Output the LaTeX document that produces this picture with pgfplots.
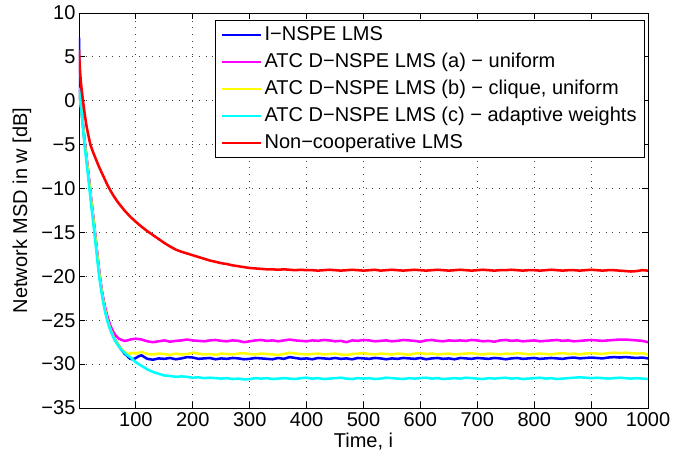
\documentclass[border=0pt]{standalone}
\usepackage{fontspec}
\setmainfont{Liberation Sans}
\usepackage{pgfplots}
\pgfplotsset{compat=1.18}

\definecolor{lblue}{rgb}{0,0,1}
\definecolor{lmagenta}{rgb}{1,0,1}
\definecolor{lyellow}{rgb}{1,1,0}
\definecolor{lcyan}{rgb}{0,1,1}
\definecolor{lred}{rgb}{1,0,0}

\newcommand{\chartfont}{\fontsize{15}{17.5}\selectfont}

\begin{document}
\chartfont
\begin{tikzpicture}
\begin{axis}[
  scale only axis,
  width=426.75pt, height=296.25pt,
  xmin=0, xmax=1000, ymin=-35, ymax=10,
  xtick={100,200,300,400,500,600,700,800,900,1000},
  xticklabels={100,200,300,400,500,600,700,800,900,1000},
  ytick={-35,-30,-25,-20,-15,-10,-5,0,5,10},
  yticklabels={−35,−30,−25,−20,−15,−10,−5,0,5,10},
  tick align=inside,
  major tick length=4.5pt,
  tick style={black, line width=0.6pt},
  axis line style={black, line width=0.6pt},
  grid=major,
  major grid style={black!75, line width=0.6pt, dash pattern=on 0.6pt off 4.4pt},
  ticklabel style={font=\chartfont},
  yticklabel style={inner xsep=2.5pt},
  xticklabel style={inner ysep=3pt},
  xlabel={Time, i},
  ylabel={Network MSD in w [dB]},
  label style={font=\chartfont},
  every axis x label/.style={at={(axis description cs:0.5,-0.0853)}, anchor=center},
  every axis y label/.style={at={(axis description cs:-0.1002,0.5)}, rotate=90, anchor=center},
  legend style={at={(0.9947,0.982)}, anchor=north east, draw=black, line width=0.6pt,
    font=\chartfont, cells={anchor=west}, row sep=3.2pt, inner xsep=4pt, inner ysep=2.5pt},
  legend image code/.code={\draw[#1] (0pt,0pt) -- (29pt,0pt);},
  every axis plot/.append style={line width=1.9pt},
]

% I-NSPE LMS
\addplot[lblue] coordinates {
(0,7.2)(1,1.0)(2,0.2)(4,-0.8)(6,-2.1)(8,-3.4)(10,-4.7)(12,-5.8)(15,-7.5)(18,-9.2)
(21,-11.0)(24,-12.7)(27,-14.4)(30,-16.2)(33,-18.0)(36,-19.8)(40,-21.7)(45,-23.5)
(50,-24.9)(55,-26.0)(60,-26.8)(65,-27.4)(70,-27.9)(75,-28.4)(80,-28.8)(85,-29.1)
(90,-29.4)(95,-29.45)
(100,-29.3)(105,-29.1)(110,-29.0)(115,-29.2)(120,-29.4)(130,-29.5)(140,-29.35)
(150,-29.4)(160,-29.3)(170,-29.45)(180,-29.35)(190,-29.2)(200,-29.25)(210,-29.4)
(220,-29.35)(230,-29.3)(240,-29.45)(250,-29.35)(260,-29.4)(270,-29.3)(280,-29.35)
(290,-29.45)(300,-29.4)(310,-29.3)(320,-29.35)(330,-29.4)(340,-29.45)(350,-29.3)
(360,-29.4)(370,-29.2)(380,-29.3)(390,-29.4)(400,-29.35)(410,-29.45)(420,-29.3)
(430,-29.35)(440,-29.4)(450,-29.3)(460,-29.4)(470,-29.35)(480,-29.45)(490,-29.3)
(500,-29.35)(510,-29.4)(520,-29.3)(530,-29.35)(540,-29.45)(550,-29.35)(560,-29.4)
(570,-29.3)(580,-29.35)(590,-29.4)(600,-29.3)(610,-29.45)(620,-29.35)(630,-29.3)
(640,-29.4)(650,-29.35)(660,-29.45)(670,-29.3)(680,-29.35)(690,-29.4)(700,-29.3)
(710,-29.35)(720,-29.4)(730,-29.3)(740,-29.35)(750,-29.45)(760,-29.35)(770,-29.3)
(780,-29.4)(790,-29.35)(800,-29.3)(810,-29.4)(820,-29.35)(830,-29.3)(840,-29.35)
(850,-29.4)(860,-29.3)(870,-29.25)(880,-29.35)(890,-29.3)(900,-29.25)(910,-29.3)
(920,-29.35)(930,-29.25)(940,-29.2)(950,-29.25)(960,-29.2)(970,-29.25)(980,-29.3)
(990,-29.25)(1000,-29.35)
};
\addlegendentry{I−NSPE LMS}

% ATC D-NSPE LMS (a)
\addplot[lmagenta] coordinates {
(0,1.2)(1,0.7)(2,0.2)(4,-0.8)(6,-2.1)(8,-3.4)(10,-4.7)(12,-5.8)(15,-7.5)(18,-9.2)
(21,-11.0)(24,-12.7)(27,-14.4)(30,-16.2)(33,-18.0)(36,-19.7)(40,-21.6)(45,-23.3)
(50,-24.6)(55,-25.6)(60,-26.3)(65,-26.8)(70,-27.1)(75,-27.25)(80,-27.35)(85,-27.3)
(90,-27.2)
(100,-27.1)(110,-27.2)(120,-27.4)(130,-27.5)(140,-27.4)(150,-27.3)(160,-27.45)
(170,-27.35)(180,-27.3)(190,-27.2)(200,-27.3)(210,-27.35)(220,-27.4)(230,-27.3)
(240,-27.25)(250,-27.35)(260,-27.4)(270,-27.3)(280,-27.35)(290,-27.5)(300,-27.4)
(310,-27.3)(320,-27.25)(330,-27.35)(340,-27.3)(350,-27.4)(360,-27.3)(370,-27.2)
(380,-27.3)(390,-27.35)(400,-27.4)(410,-27.3)(420,-27.35)(430,-27.25)(440,-27.3)
(450,-27.4)(460,-27.35)(470,-27.5)(480,-27.3)(490,-27.35)(500,-27.25)(510,-27.3)
(520,-27.4)(530,-27.35)(540,-27.3)(550,-27.4)(560,-27.35)(570,-27.25)(580,-27.3)
(590,-27.35)(600,-27.45)(610,-27.3)(620,-27.25)(630,-27.35)(640,-27.4)(650,-27.3)
(660,-27.35)(670,-27.3)(680,-27.35)(690,-27.25)(700,-27.3)(710,-27.4)(720,-27.35)
(730,-27.45)(740,-27.3)(750,-27.25)(760,-27.35)(770,-27.3)(780,-27.4)(790,-27.35)
(800,-27.3)(810,-27.4)(820,-27.35)(830,-27.3)(840,-27.25)(850,-27.35)(860,-27.3)
(870,-27.4)(880,-27.35)(890,-27.3)(900,-27.25)(910,-27.3)(920,-27.35)(930,-27.3)
(940,-27.25)(950,-27.2)(960,-27.2)(970,-27.25)(980,-27.3)(990,-27.35)(1000,-27.5)
};
\addlegendentry{ATC D−NSPE LMS (a) − uniform}

% ATC D-NSPE LMS (b)
\addplot[lyellow] coordinates {
(0,1.0)(1,0.5)(2,0.1)(4,-0.9)(6,-2.2)(8,-3.5)(10,-4.8)(12,-5.9)(15,-7.6)(18,-9.3)
(21,-11.1)(24,-12.8)(27,-14.5)(30,-16.3)(33,-18.1)(36,-19.9)(40,-21.8)(45,-23.6)
(50,-25.0)(55,-26.0)(60,-26.8)(65,-27.4)(70,-27.9)(75,-28.3)(80,-28.6)(85,-28.8)
(90,-28.8)(95,-28.7)
(100,-28.8)(110,-28.6)(120,-28.85)(130,-28.9)(140,-28.8)(150,-28.85)(160,-28.95)
(170,-28.8)(180,-28.9)(190,-28.85)(200,-28.7)(210,-28.8)(220,-28.9)(230,-28.85)
(240,-28.95)(250,-28.8)(260,-28.85)(270,-28.9)(280,-28.8)(290,-28.75)(300,-28.85)
(310,-28.9)(320,-28.8)(330,-28.85)(340,-28.9)(350,-28.95)(360,-28.85)(370,-28.7)
(380,-28.8)(390,-28.85)(400,-28.9)(410,-28.85)(420,-28.8)(430,-28.9)(440,-28.85)
(450,-28.8)(460,-28.9)(470,-28.95)(480,-28.85)(490,-28.8)(500,-28.75)(510,-28.85)
(520,-28.9)(530,-28.8)(540,-28.85)(550,-28.9)(560,-28.8)(570,-28.85)(580,-28.95)
(590,-28.8)(600,-28.75)(610,-28.85)(620,-28.8)(630,-28.9)(640,-28.85)(650,-28.8)
(660,-28.9)(670,-28.85)(680,-28.8)(690,-28.75)(700,-28.85)(710,-28.9)(720,-28.8)
(730,-28.85)(740,-28.9)(750,-28.8)(760,-28.85)(770,-28.75)(780,-28.8)(790,-28.9)
(800,-28.85)(810,-28.8)(820,-28.85)(830,-28.9)(840,-28.8)(850,-28.75)(860,-28.85)
(870,-28.8)(880,-28.9)(890,-28.8)(900,-28.75)(910,-28.8)(920,-28.85)(930,-28.75)
(940,-28.7)(950,-28.75)(960,-28.7)(970,-28.75)(980,-28.8)(990,-28.75)(1000,-28.9)
};
\addlegendentry{ATC D−NSPE LMS (b) − clique, uniform}

% ATC D-NSPE LMS (c)
\addplot[lcyan] coordinates {
(0,1.5)(1,0.8)(2,0.3)(4,-1.0)(6,-2.4)(8,-3.8)(10,-5.2)(12,-6.3)(15,-8.0)(18,-9.8)
(21,-11.6)(24,-13.3)(27,-15.0)(30,-16.8)(33,-18.6)(36,-20.3)(40,-22.0)(45,-23.8)
(50,-25.1)(55,-26.1)(60,-26.9)(65,-27.5)(70,-28.0)(75,-28.4)(80,-28.7)(85,-29.0)
(90,-29.2)(95,-29.5)
(100,-29.8)(110,-30.2)(120,-30.6)(130,-30.9)(140,-31.1)(150,-31.3)(160,-31.35)
(170,-31.45)(180,-31.4)(190,-31.45)(200,-31.55)(210,-31.5)(220,-31.6)(230,-31.55)
(240,-31.6)(250,-31.65)(260,-31.6)(270,-31.7)(280,-31.65)(290,-31.75)(300,-31.7)
(310,-31.6)(320,-31.65)(330,-31.6)(340,-31.7)(350,-31.65)(360,-31.6)(370,-31.65)
(380,-31.7)(390,-31.6)(400,-31.55)(410,-31.65)(420,-31.6)(430,-31.7)(440,-31.65)
(450,-31.6)(460,-31.55)(470,-31.65)(480,-31.7)(490,-31.6)(500,-31.65)(510,-31.6)
(520,-31.7)(530,-31.65)(540,-31.55)(550,-31.6)(560,-31.65)(570,-31.7)(580,-31.6)
(590,-31.65)(600,-31.6)(610,-31.55)(620,-31.65)(630,-31.6)(640,-31.7)(650,-31.65)
(660,-31.6)(670,-31.65)(680,-31.55)(690,-31.6)(700,-31.65)(710,-31.7)(720,-31.6)
(730,-31.65)(740,-31.6)(750,-31.55)(760,-31.65)(770,-31.6)(780,-31.7)(790,-31.65)
(800,-31.6)(810,-31.55)(820,-31.65)(830,-31.6)(840,-31.7)(850,-31.65)(860,-31.6)
(870,-31.55)(880,-31.5)(890,-31.55)(900,-31.6)(910,-31.55)(920,-31.6)(930,-31.65)
(940,-31.6)(950,-31.55)(960,-31.6)(970,-31.65)(980,-31.6)(990,-31.65)(1000,-31.7)
};
\addlegendentry{ATC D−NSPE LMS (c) − adaptive weights}

% Non-cooperative LMS
\addplot[lred] coordinates {
(0,5.8)(1,4.3)(2,3.2)(3,2.4)(4,1.7)(5,1.1)(7,0.0)(10,-1.5)(13,-2.8)(16,-3.8)
(20,-5.0)(25,-5.9)(30,-6.7)(35,-7.5)(40,-8.2)(45,-8.9)(50,-9.6)(55,-10.2)
(60,-10.75)(65,-11.25)(70,-11.7)(75,-12.1)(80,-12.5)(85,-12.85)(90,-13.2)(95,-13.5)
(100,-13.8)(110,-14.35)(120,-14.85)(130,-15.3)(140,-15.75)(150,-16.2)(160,-16.6)
(170,-16.95)(180,-17.2)(190,-17.4)(200,-17.6)(210,-17.8)(220,-18.0)(230,-18.2)
(240,-18.35)(250,-18.5)(260,-18.6)(270,-18.75)(280,-18.85)(290,-18.95)(300,-19.05)
(310,-19.1)(320,-19.15)(330,-19.2)(340,-19.2)(350,-19.25)(360,-19.2)(370,-19.25)
(380,-19.3)(390,-19.25)(400,-19.3)(410,-19.3)(420,-19.35)(430,-19.3)(440,-19.25)
(450,-19.3)(460,-19.35)(470,-19.3)(480,-19.25)(490,-19.3)(500,-19.35)(510,-19.3)
(520,-19.25)(530,-19.35)(540,-19.3)(550,-19.25)(560,-19.3)(570,-19.35)(580,-19.3)
(590,-19.25)(600,-19.3)(610,-19.35)(620,-19.3)(630,-19.25)(640,-19.3)(650,-19.35)
(660,-19.3)(670,-19.25)(680,-19.3)(690,-19.35)(700,-19.3)(710,-19.25)(720,-19.3)
(730,-19.35)(740,-19.3)(750,-19.3)(760,-19.25)(770,-19.3)(780,-19.35)(790,-19.3)
(800,-19.3)(810,-19.35)(820,-19.3)(830,-19.25)(840,-19.3)(850,-19.35)(860,-19.3)
(870,-19.3)(880,-19.35)(890,-19.3)(900,-19.25)(910,-19.3)(920,-19.35)(930,-19.3)
(940,-19.3)(950,-19.35)(960,-19.4)(970,-19.45)(980,-19.4)(990,-19.3)(1000,-19.35)
};
\addlegendentry{Non−cooperative LMS}

\end{axis}
\pgfresetboundingbox
\path ([xshift=-59.25pt,yshift=-39pt]current axis.south west)
  rectangle ([xshift=20.25pt,yshift=9.75pt]current axis.north east);
\end{tikzpicture}
\end{document}
